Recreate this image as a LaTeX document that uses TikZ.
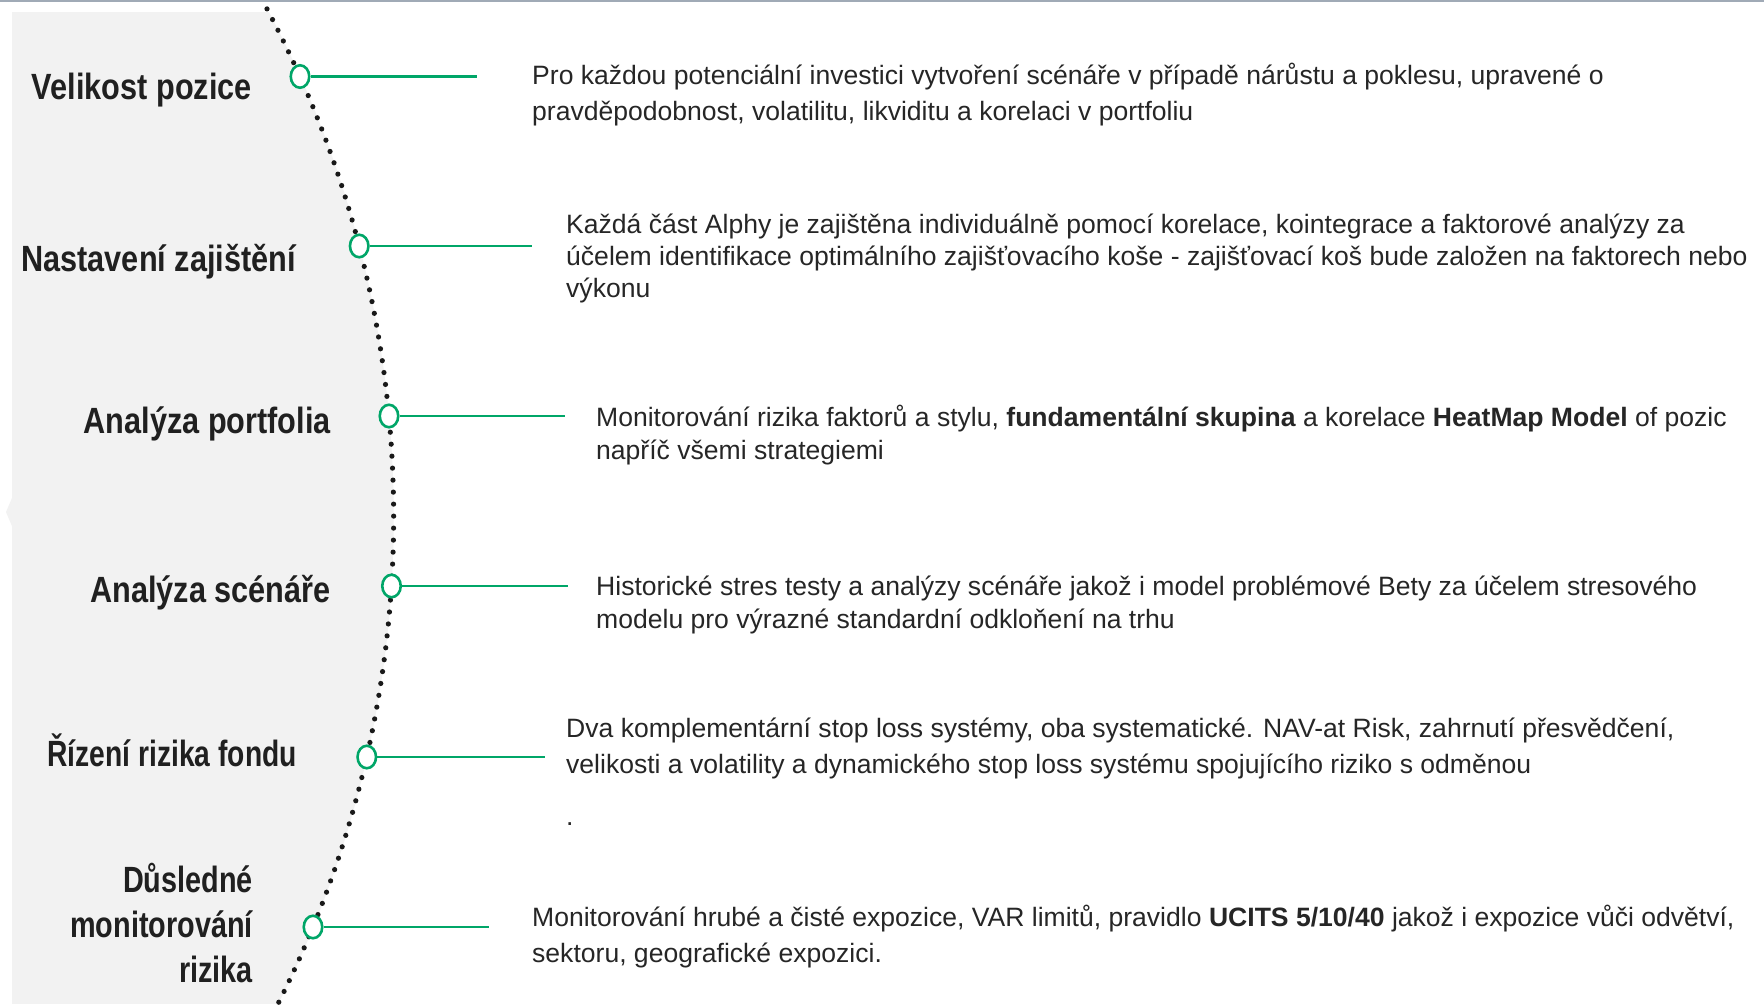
\documentclass[tikz,border=0pt]{standalone}
\usepackage{fontspec}
\usepackage{graphicx}
\setmainfont{Liberation Sans}
\newfontfamily\titlefont[FakeStretch=0.84]{Liberation Sans}
\usetikzlibrary{shapes.geometric}
\definecolor{panelgray}{RGB}{242,242,242}
\definecolor{topline}{RGB}{160,170,182}
\definecolor{accent}{RGB}{0,166,104}
\definecolor{txt}{RGB}{32,32,32}
\definecolor{bodytxt}{RGB}{38,38,38}
\tikzset{
  ttl/.style={anchor=base east, inner sep=0pt, text=txt, font=\titlefont\bfseries\fontsize{36.5}{40}\selectfont},
  desc/.style={anchor=base west, inner sep=0pt, text=bodytxt, font=\fontsize{26.55}{30}\selectfont},
  ring/.style={ellipse, draw=accent, fill=white, line width=2.6pt, minimum width=18.5pt, minimum height=22.5pt, inner sep=0pt},
  link/.style={draw=accent, line width=2.6pt},
  dotline/.style={line width=5.2pt, line cap=round, dash pattern=on 0pt off 12pt, black!90}
}
\begin{document}
\begin{tikzpicture}[x=1pt,y=-1pt]
\useasboundingbox (0,0) rectangle (1764,1004);
\fill[white] (0,0) rectangle (1764,1004);
\draw[topline, line width=2.2pt] (0,1.1) -- (1764,1.1);
% gray panel bounded by the arc
\begin{scope}
  \clip (-688.6,517) circle (1082.3pt);
  \fill[panelgray] (12,12) rectangle (1764,1004);
\end{scope}
\fill[panelgray] (12,498) -- (6,512) -- (12,526) -- cycle;
% dotted arc
\draw[dotline] plot[domain=-28:26.8, samples=120] ({-688.6+1082.3*cos(\x)}, {517+1082.3*sin(\x)});
% circles
\node[ring] (c1) at (300.0,76.5) {};
\node[ring] (c2) at (359.2,246) {};
\node[ring] (c3) at (389.0,416) {};
\node[ring] (c4) at (391.5,586) {};
\node[ring] (c5) at (366.8,757) {};
\node[ring] (c6) at (313.0,927) {};
\coordinate (e1) at (477,76.5);
\coordinate (e2) at (532,246);
\coordinate (e3) at (565,416);
\coordinate (e4) at (568,586);
\coordinate (e5) at (544.5,757);
\coordinate (e6) at (489,927);
\foreach \i in {1,...,6} \draw[link] (c\i.east) -- (e\i);
% titles
\node[ttl] (h1) at (252,99) {Velikost pozice};
\node[ttl] (h2) at (296,271) {Nastavení zajištění};
\node[ttl] (h3) at (331,433) {Analýza portfolia};
\node[ttl] (h4) at (331,602) {Analýza scénáře};
\node[ttl] (h5) at (297,766) {\scalebox{0.92}[1]{Řízení rizika fondu}};
\node[ttl] (h6a) at (253,892) {\scalebox{0.94}[1]{Důsledné}};
\node[ttl] (h6b) at (253,937) {\scalebox{0.94}[1]{monitorování}};
\node[ttl] (h6c) at (253,982) {\scalebox{0.94}[1]{rizika}};
% descriptions
\node[desc] (d1a) at (532,84.5) {Pro každou potenciální investici vytvoření scénáře v případě nárůstu a poklesu, upravené o};
\node[desc] (d1b) at (532,120) {pravděpodobnost, volatilitu, likviditu a korelaci v portfoliu};
\node[desc] (d2a) at (566,233) {Každá část Alphy je zajištěna individuálně pomocí korelace, kointegrace a faktorové analýzy za};
\node[desc] (d2b) at (566,265.5) {účelem identifikace optimálního zajišťovacího koše - zajišťovací koš bude založen na faktorech nebo};
\node[desc] (d2c) at (566,297) {výkonu};
\node[desc] (d3a) at (596,426) {Monitorování rizika faktorů a stylu, \textbf{fundamentální skupina} a korelace \textbf{HeatMap Model} of pozic};
\node[desc] (d3b) at (596,459) {napříč všemi strategiemi};
\node[desc] (d4a) at (596,595) {Historické stres testy a analýzy scénáře jakož i model problémové Bety za účelem stresového};
\node[desc] (d4b) at (596,628) {modelu pro výrazné standardní odkloňení na trhu};
\node[desc] (d5a) at (566,737) {Dva komplementární stop loss systémy, oba systematické. NAV-at Risk, zahrnutí přesvědčení,};
\node[desc] (d5b) at (566,773) {velikosti a volatility a dynamického stop loss systému spojujícího riziko s odměnou};
\node[desc] (d5c) at (566,825) {.};
\node[desc] (d6a) at (532,926) {Monitorování hrubé a čisté expozice, VAR limitů, pravidlo \textbf{UCITS 5/10/40} jakož i expozice vůči odvětví,};
\node[desc] (d6b) at (532,962) {sektoru, geografické expozici.};
\end{tikzpicture}
\end{document}
